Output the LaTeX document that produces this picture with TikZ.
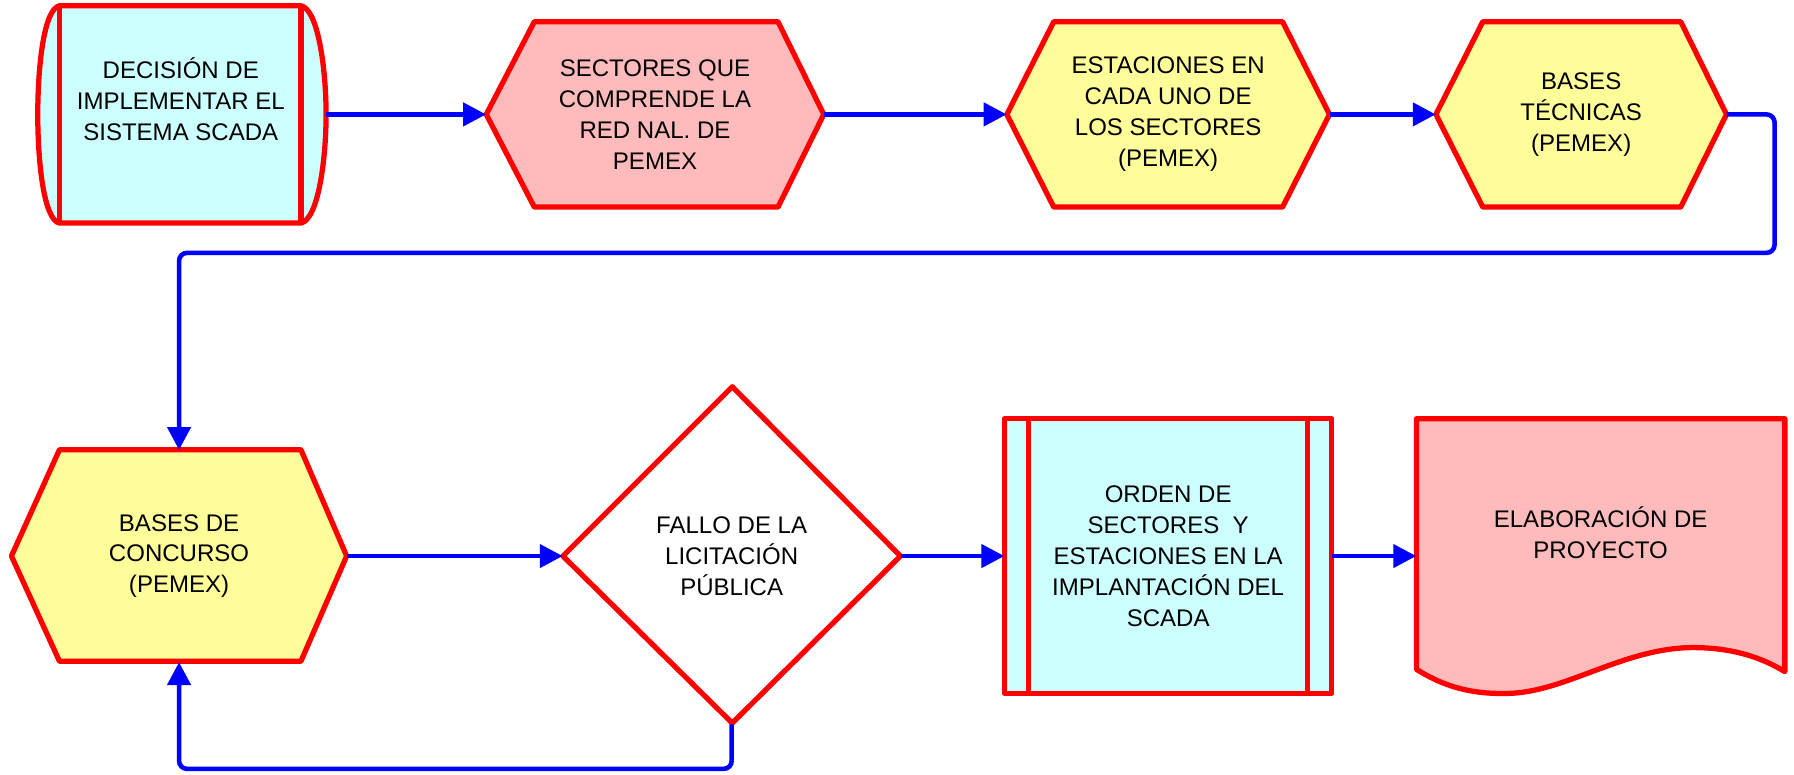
\documentclass[tikz,border=0pt]{standalone}
\usepackage{fontspec}
\setmainfont{Liberation Sans}
\usetikzlibrary{arrows.meta,calc}
\definecolor{cy}{HTML}{CCFFFF}
\definecolor{pk}{HTML}{FFBBBB}
\definecolor{yl}{HTML}{FFFD9A}
\begin{document}
\begin{tikzpicture}[x=1pt,y=-1pt,
  shp/.style={draw=red, line width=4.6pt, line join=round},
  box/.style={inner sep=0pt, align=center, font=\fontsize{21}{27}\selectfont},
  conn/.style={draw=blue, line width=4pt, rounded corners=7pt, -{Triangle[length=20pt,width=20pt]}}]
\useasboundingbox (0,0) rectangle (1568,677);
% shapes
\path[shp, fill=cy] (52,5) -- (263,5) .. controls (278,8) and (285,60) .. (285,100)
  .. controls (285,140) and (278,192) .. (263,195) -- (52,195)
  .. controls (38,192) and (33,140) .. (33,100) .. controls (33,60) and (38,8) .. (52,5) -- cycle;
\draw[shp] (52,5) -- (52,195);
\draw[shp] (263,5) -- (263,195);
\path[shp, fill=pk] (425,100) -- (467,19) -- (680,19) -- (720,100) -- (680,181) -- (467,181) -- cycle;
\path[shp, fill=yl] (880,100) -- (921,19) -- (1121,19) -- (1162,100) -- (1121,181) -- (921,181) -- cycle;
\path[shp, fill=yl] (1255,100) -- (1296,19) -- (1469,19) -- (1509,100) -- (1469,181) -- (1296,181) -- cycle;
\path[shp, fill=yl] (10,486) -- (52,393) -- (263,393) -- (303,486) -- (263,578) -- (52,578) -- cycle;
\path[shp, fill=white] (492,486) -- (640,338) -- (787,486) -- (640,632) -- cycle;
\path[shp, fill=cy] (878,366) rectangle (1164,606);
\draw[shp] (899,366) -- (899,606);
\draw[shp] (1143,366) -- (1143,606);
\path[shp, fill=pk] (1238,366) -- (1560,366) -- (1560,587)
  .. controls (1545,578) and (1520,566) .. (1480,566)
  .. controls (1420,566) and (1370,604) .. (1320,606)
  .. controls (1290,607) and (1265,602) .. (1238,585) -- cycle;
% nodes
\node[box, minimum width=252pt, minimum height=190pt] (n1) at (159,100) {};
\node[box] (t1) at (158,86.5) {DECISIÓN DE\\IMPLEMENTAR EL\\SISTEMA SCADA};
\node[box, minimum width=295pt, minimum height=162pt] (n2) at (572.5,100) {SECTORES QUE\\COMPRENDE LA\\RED NAL. DE\\PEMEX};
\node[box, minimum width=282pt, minimum height=162pt] (n3) at (1021,100) {ESTACIONES EN\\CADA UNO DE\\LOS SECTORES\\(PEMEX)};
\node[box, minimum width=254pt, minimum height=162pt] (n4) at (1382,100) {BASES\\TÉCNICAS\\(PEMEX)};
\node[box, minimum width=293pt, minimum height=185pt] (n5) at (156.5,486) {BASES DE\\CONCURSO\\(PEMEX)};
\node[box, minimum width=295pt, minimum height=294pt] (n6) at (639.5,486) {FALLO DE LA\\LICITACIÓN\\PÚBLICA};
\node[box, minimum width=286pt, minimum height=240pt] (n7) at (1021,486) {ORDEN DE\\SECTORES\ \ Y\\ESTACIONES EN LA\\IMPLANTACIÓN DEL\\SCADA};
\node[box, minimum width=322pt, minimum height=240pt] (n8) at (1399,486) {};
\node[box] (t8) at (1399,465.5) {ELABORACIÓN DE\\PROYECTO};
\coordinate (c1) at (1551,221);
\coordinate (c2) at (300,672);
% connectors
\draw[conn] (n1.east) -- (n2.west);
\draw[conn] (n2.east) -- (n3.west);
\draw[conn] (n3.east) -- (n4.west);
\draw[conn] (n4.east) -| (c1) -| (n5.north);
\draw[conn] (n5.east) -- (n6.west);
\draw[conn] (n6.south) |- (c2) -| (n5.south);
\draw[conn] (n6.east) -- (n7.west);
\draw[conn] (n7.east) -- (n8.west);
\end{tikzpicture}
\end{document}
